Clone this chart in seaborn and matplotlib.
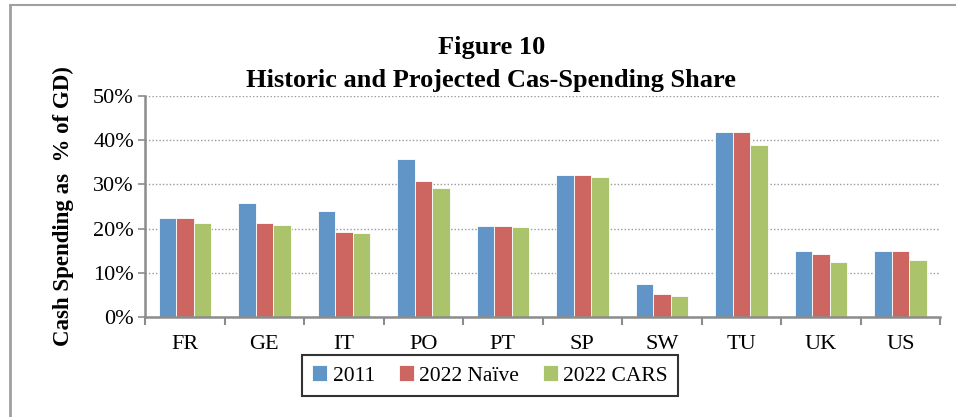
import matplotlib
matplotlib.use("Agg")
import matplotlib.pyplot as plt
from matplotlib.lines import Line2D
from matplotlib.ticker import PercentFormatter, FixedLocator, NullFormatter
import seaborn as sns
import pandas as pd

countries = ["FR", "GE", "IT", "PO", "PT", "SP", "SW", "TU", "UK", "US"]
v2011 = [22.5, 25.7, 23.9, 35.8, 20.7, 32.2, 7.4, 41.8, 15.0, 14.9]
v2022_naive = [22.5, 21.3, 19.3, 30.7, 20.7, 32.2, 5.3, 41.8, 14.2, 14.9]
v2022_cars = [21.3, 20.8, 18.9, 29.2, 20.3, 31.6, 4.8, 38.8, 12.5, 13.0]
series_names = ["2011", "2022 Naïve", "2022 CARS"]
colors = ["#6195C8", "#CD6660", "#ABC46B"]

rows = []
for name, vals in zip(series_names, [v2011, v2022_naive, v2022_cars]):
    for c, v in zip(countries, vals):
        rows.append({"country": c, "series": name, "value": v})
df = pd.DataFrame(rows)

sns.set_theme(style="white")
plt.rcParams["font.family"] = ["Liberation Serif", "DejaVu Serif"]

fig = plt.figure(figsize=(9.56, 4.17), dpi=100)
ax = fig.add_axes([0.1517, 0.2398, 0.9833 - 0.1517, 0.7698 - 0.2398])

sns.barplot(data=df, x="country", y="value", hue="series", order=countries,
            hue_order=series_names, palette=colors, width=0.66, ax=ax,
            edgecolor="white", linewidth=0.6, saturation=1, legend=True)

ax.set_ylim(0, 50)
ax.set_xlim(-0.5, len(countries) - 0.5)
ax.set_yticks([0, 10, 20, 30, 40, 50])
ax.yaxis.set_major_formatter(PercentFormatter(decimals=0))
ax.grid(axis="y", linestyle=(0, (1, 1.5)), color="#9a9a9a", linewidth=1.0)
ax.set_axisbelow(True)
for s in ["top", "right"]:
    ax.spines[s].set_visible(False)
for s in ["left", "bottom"]:
    ax.spines[s].set_color("#8c8c8c")
    ax.spines[s].set_linewidth(1.8)

ax.tick_params(axis="y", which="major", left=True, length=5, width=1.2,
               color="#8c8c8c", labelsize=16, pad=3)
ax.tick_params(axis="x", which="major", bottom=False, labelsize=16, pad=7)
ax.xaxis.set_minor_locator(FixedLocator([i - 0.5 for i in range(len(countries) + 1)]))
ax.xaxis.set_minor_formatter(NullFormatter())
ax.tick_params(axis="x", which="minor", bottom=True, length=6, width=1.5,
               color="#8c8c8c")
for lab in ax.get_xticklabels() + ax.get_yticklabels():
    lab.set_color("black")

ax.set_xlabel("")
ax.set_ylabel("Cash Spending as  % of GD)", fontsize=16.5, fontweight="bold",
              color="black", labelpad=14)

fig.text(0.514, 0.885, "Figure 10", ha="center", va="center", fontsize=19,
         fontweight="bold", color="black")
fig.text(0.514, 0.806, "Historic and Projected Cas-Spending Share", ha="center",
         va="center", fontsize=19, fontweight="bold", color="black")

handles, labels = ax.get_legend_handles_labels()
ax.get_legend().remove()
leg = fig.legend(handles, labels, loc="center", bbox_to_anchor=(0.5126, 0.0995),
                 ncol=3, frameon=True, fancybox=False, fontsize=15.5,
                 handlelength=0.7, handleheight=0.7, handletextpad=0.25,
                 columnspacing=1.1, borderpad=0.5, borderaxespad=0)
leg.get_frame().set_edgecolor("black")
leg.get_frame().set_linewidth(1.5)
for t in leg.get_texts():
    t.set_color("black")

fig.add_artist(Line2D([9.5 / 956, 9.5 / 956], [0, 1 - 5 / 417],
                      transform=fig.transFigure, color="#a0a0a0", linewidth=2))
fig.add_artist(Line2D([9.5 / 956, 1], [1 - 5 / 417, 1 - 5 / 417],
                      transform=fig.transFigure, color="#a0a0a0", linewidth=1.5))

fig.savefig("out.png", dpi=100)
